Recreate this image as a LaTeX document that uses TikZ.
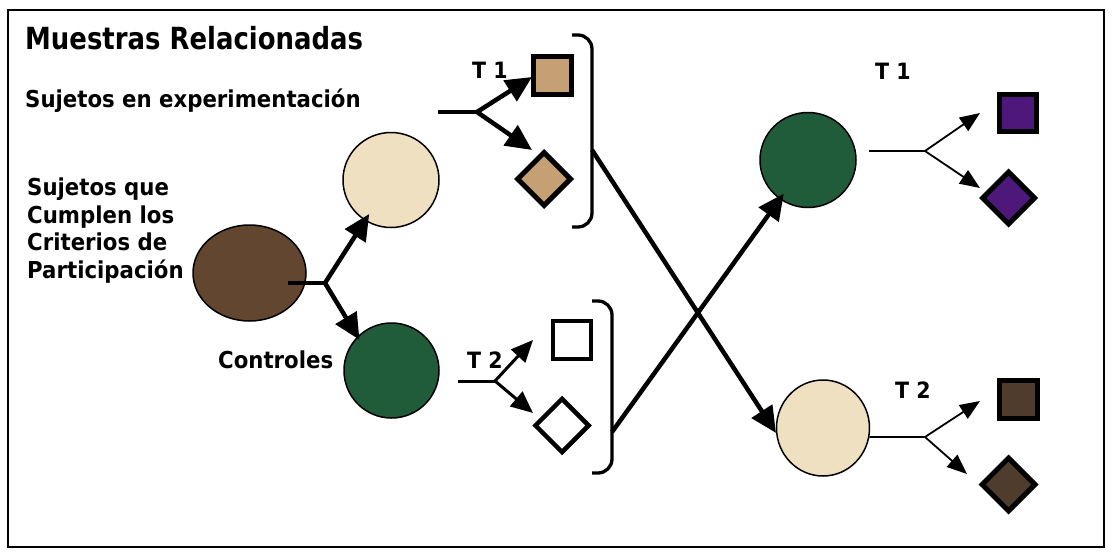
\documentclass[tikz,border=0pt]{standalone}
\usepackage{fontspec}
\setmainfont{DejaVu Sans}
\newfontfamily\bodyf{DejaVu Sans}[FakeStretch=0.913]
\newfontfamily\titlef{DejaVu Sans}[FakeStretch=0.85]
\usetikzlibrary{arrows.meta,shapes.geometric}
\definecolor{brownc}{RGB}{98,70,48}
\definecolor{beigec}{RGB}{238,224,192}
\definecolor{greenc}{RGB}{32,92,58}
\definecolor{tanc}{RGB}{196,160,116}
\definecolor{purplec}{RGB}{78,24,122}
\definecolor{darkbc}{RGB}{80,60,44}
\begin{document}
\begin{tikzpicture}[x=1pt,y=-1pt,
  ttl/.style={anchor=base west,inner sep=0pt,font=\titlef\bfseries\fontsize{30.5}{36}\selectfont},
  lbl/.style={anchor=base west,inner sep=0pt,font=\bodyf\bfseries\fontsize{23.3}{28}\selectfont},
  tlbl/.style={anchor=base west,inner sep=0pt,font=\bodyf\bfseries\fontsize{22.5}{27}\selectfont},
  ball/.style={ellipse,draw=black,line width=1.5pt,inner sep=0pt},
  sqbox/.style={rectangle,draw=black,line width=5pt,minimum size=38pt,inner sep=0pt},
  dmbox/.style={diamond,draw=black,line width=5pt,minimum size=55pt,inner sep=0pt},
  bigarr/.style={line width=4.5pt,-{Triangle[length=26pt,width=24pt]}},
  midarr/.style={line width=3pt,-{Triangle[length=22pt,width=19pt]}},
  thinarr/.style={line width=1.8pt,-{Triangle[length=20pt,width=16pt]}},
  brk/.style={line width=3.3pt,rounded corners=14pt}
]
\useasboundingbox (0,0) rectangle (1112,554);
\draw[line width=1.5pt] (8,10) rectangle (1104,547);

% texts
\node[ttl] (title) at (25,49) {Muestras Relacionadas};
\node[lbl] (exper) at (25,107) {Sujetos en experimentación};
\node[lbl] (q1) at (27,195) {Sujetos que};
\node[lbl] (q2) at (27,223) {Cumplen los};
\node[lbl] (q3) at (27,250) {Criterios de};
\node[lbl] (q4) at (27,278) {Participación};
\node[lbl] (ctrl) at (218,368) {Controles};
\node[tlbl] (t1a) at (472,78) {T 1};
\node[tlbl] (t2a) at (467,368) {T 2};
\node[tlbl] (t1b) at (875,79) {T 1};
\node[tlbl] (t2b) at (895,398) {T 2};

% circles
\node[ball,fill=brownc,minimum width=113pt,minimum height=96pt] (brown) at (249.5,273) {};
\node[ball,fill=beigec,minimum width=96pt,minimum height=95pt] (bgL) at (391,180) {};
\node[ball,fill=greenc,minimum width=95pt,minimum height=95pt] (gnL) at (391.5,370.5) {};
\node[ball,fill=greenc,minimum width=96pt,minimum height=95pt] (gnR) at (808,160) {};
\node[ball,fill=beigec,minimum width=93pt,minimum height=96pt] (bgR) at (823,428) {};

% squares and diamonds
\node[sqbox,fill=tanc] (sqA) at (552.5,75) {};
\node[dmbox,fill=tanc] (dmA) at (544,179) {};
\node[sqbox,fill=white,line width=4.5pt] (sqB) at (572,340) {};
\node[dmbox,fill=white,line width=4.5pt] (dmB) at (562,425.5) {};
\node[sqbox,fill=purplec,minimum size=37pt] (sqC) at (1018,113) {};
\node[dmbox,fill=purplec,minimum size=54pt] (dmC) at (1008.5,198) {};
\node[sqbox,fill=darkbc] (sqD) at (1018,399.5) {};
\node[dmbox,fill=darkbc] (dmD) at (1008.5,484.5) {};

% brackets
\draw[brk] (572,35) -- (592,35) -- (592,227) -- (572,227);
\draw[brk] (592,301) -- (612,301) -- (612,473) -- (592,473);
\coordinate (b1) at (592,150);
\coordinate (b2) at (612,432);

% branch from brown ellipse
\coordinate (s1) at (288,283);
\coordinate (j1) at (325,283);
\draw[line width=4.5pt] (s1) -- (j1);
\draw[bigarr,shorten >=-8pt] (j1) -- (bgL);
\draw[bigarr,shorten >=-4pt] (j1) -- (gnL.135);

% T1 left branch
\coordinate (s2) at (438,112);
\coordinate (j2) at (477,112);
\coordinate (e2a) at (532,77);
\coordinate (e2b) at (532,150);
\draw[line width=4.5pt] (s2) -- (j2);
\draw[bigarr] (j2) -- (e2a);
\draw[bigarr] (j2) -- (e2b);

% T2 left branch
\coordinate (s3) at (458,381);
\coordinate (j3) at (495,381);
\coordinate (e3a) at (533,340);
\coordinate (e3b) at (533,413);
\draw[line width=3pt] (s3) -- (j3);
\draw[midarr] (j3) -- (e3a);
\draw[midarr] (j3) -- (e3b);

% crossing arrows
\draw[bigarr] (b1) -- (bgR.186);
\draw[bigarr,shorten >=-7pt] (b2) -- (gnR);

% right T1 branch
\coordinate (s4) at (869,151);
\coordinate (j4) at (925,151);
\coordinate (e4a) at (980,113);
\coordinate (e4b) at (980,188);
\draw[line width=1.8pt] (s4) -- (j4);
\draw[thinarr] (j4) -- (e4a);
\draw[thinarr] (j4) -- (e4b);

% right T2 branch
\coordinate (j5) at (925,437);
\coordinate (e5a) at (980,401);
\coordinate (e5b) at (967,474);
\draw[line width=1.8pt] (bgR.-11) -- (j5);
\draw[thinarr] (j5) -- (e5a);
\draw[thinarr] (j5) -- (e5b);
\end{tikzpicture}
\end{document}
